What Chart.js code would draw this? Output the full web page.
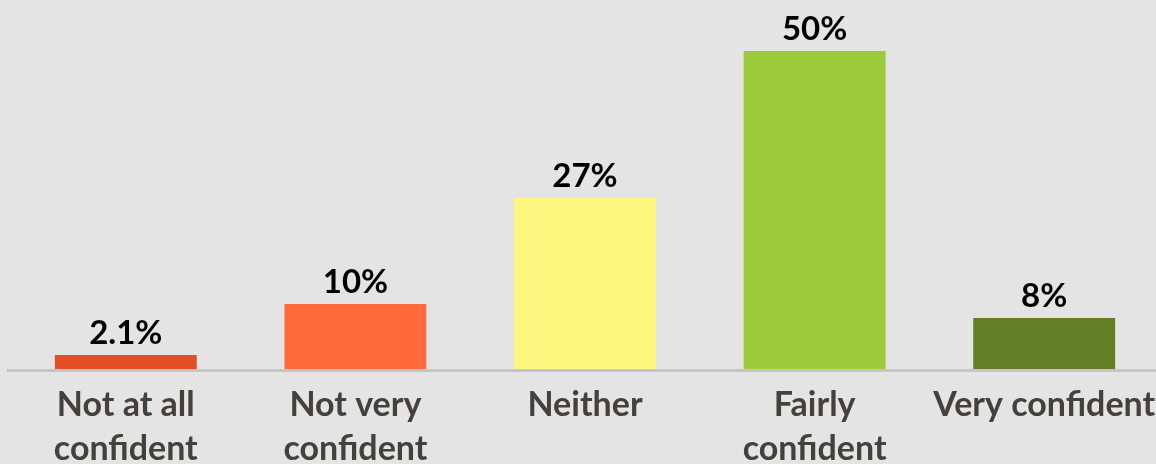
<!DOCTYPE html>
<html>
<head>
<meta charset="utf-8">
<script src="https://cdn.jsdelivr.net/npm/chart.js@4"></script>
<style>
    html, body { margin: 0; padding: 0; background: #e4e4e4; overflow: hidden; }
    #wrap { position: relative; width: 1160px; height: 464px; }
</style>
</head>
<body>
<div id="wrap"><canvas id="confChart"></canvas></div>
<script>
// Chart data
const categories = [['Not at all', 'confident'], ['Not very', 'confident'], 'Neither', ['Fairly', 'confident'], 'Very confident'];
const values = [2.2, 10.2, 26.9, 50, 8];
const valueLabels = ['2.1%', '10%', '27%', '50%', '8%'];
const barColors = ['#e44e23', '#ff6b3a', '#fff680', '#9dca3c', '#637f26'];

// Baseline line + value labels above bars
const annotate = {
    id: 'annotate',
    beforeDatasetsDraw(chart) {
        const ctx = chart.ctx;
        const y0 = chart.scales.y.getPixelForValue(0);
        ctx.save();
        ctx.fillStyle = '#c4c4c4';
        ctx.fillRect(7, y0, chart.width, 3);
        ctx.restore();
    },
    afterDatasetsDraw(chart) {
        const ctx = chart.ctx;
        const meta = chart.getDatasetMeta(0);
        ctx.save();
        ctx.font = 'bold 33px Lato';
        ctx.fillStyle = '#000';
        ctx.textAlign = 'center';
        ctx.textBaseline = 'alphabetic';
        meta.data.forEach((bar, i) => {
            ctx.fillText(valueLabels[i], bar.x, bar.y - 11);
        });
        ctx.restore();
    }
};

function initChart() {
    const ctx = document.getElementById('confChart').getContext('2d');
    new Chart(ctx, {
        type: 'bar',
        data: {
            labels: categories,
            datasets: [{
                data: values,
                backgroundColor: barColors,
                borderWidth: 0,
                categoryPercentage: 1,
                barPercentage: 0.618
            }]
        },
        options: {
            responsive: true,
            maintainAspectRatio: false,
            animation: false,
            layout: { padding: { left: 11, right: 1, top: 0, bottom: 0 } },
            plugins: {
                legend: { display: false },
                tooltip: { enabled: false }
            },
            scales: {
                x: {
                    grid: { display: false, drawTicks: false },
                    border: { display: false },
                    ticks: {
                        color: '#42413c',
                        font: { family: 'Lato', weight: 'bold', size: 34, lineHeight: '44px' },
                        padding: 14,
                        maxRotation: 0,
                        autoSkip: false
                    },
                    afterFit(scale) {
                        scale.height = 95;
                        scale.paddingLeft = 0;
                        scale.paddingRight = 0;
                    }
                },
                y: {
                    display: false,
                    min: 0,
                    max: 58
                }
            }
        },
        plugins: [annotate]
    });
}

document.addEventListener('DOMContentLoaded', initChart);
</script>
</body>
</html>
